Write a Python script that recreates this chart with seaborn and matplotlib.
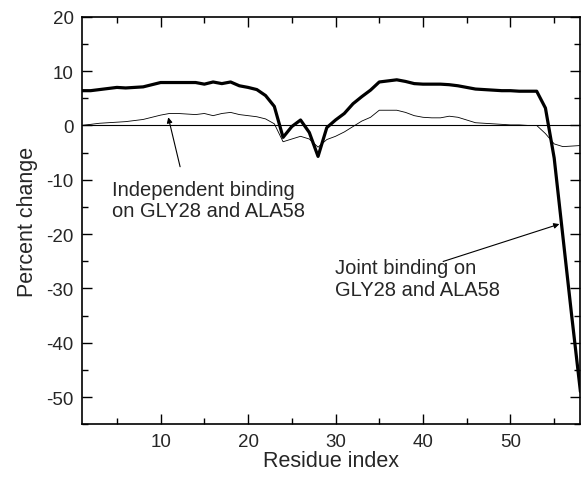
import numpy as np
import pandas as pd
import matplotlib
matplotlib.use("Agg")
import matplotlib.pyplot as plt
from matplotlib.ticker import MultipleLocator
import seaborn as sns

residues = list(range(1, 59))
joint = [6.4, 6.4, 6.6, 6.8, 7.0, 6.9, 7.0, 7.1, 7.5, 7.9,
         7.9, 7.9, 7.9, 7.9, 7.6, 8.0, 7.7, 8.0, 7.3, 7.0,
         6.6, 5.5, 3.5, -2.2, -0.2, 1.0, -1.3, -5.7, -0.4, 1.0,
         2.2, 4.0, 5.3, 6.5, 8.0, 8.2, 8.4, 8.1, 7.7, 7.6,
         7.6, 7.6, 7.5, 7.3, 7.0, 6.7, 6.6, 6.5, 6.4, 6.4,
         6.3, 6.3, 6.3, 3.2, -6.0, -20.5, -35.0, -49.0]
independent = [0.0, 0.2, 0.4, 0.5, 0.6, 0.7, 0.9, 1.1, 1.5, 1.9,
               2.2, 2.2, 2.1, 2.0, 2.2, 1.8, 2.2, 2.4, 2.0, 1.8,
               1.6, 1.2, 0.3, -3.0, -2.5, -2.0, -2.5, -4.0, -2.6, -2.0,
               -1.2, -0.2, 0.8, 1.5, 2.8, 2.8, 2.8, 2.4, 1.8, 1.5,
               1.4, 1.4, 1.7, 1.5, 1.0, 0.5, 0.4, 0.3, 0.2, 0.1,
               0.1, 0.0, 0.0, -1.5, -3.4, -3.9, -3.8, -3.7]
x_ticks = [10, 20, 30, 40, 50]
y_ticks = [-50, -40, -30, -20, -10, 0, 10, 20]

sns.set_style("ticks")
plt.rcParams['font.family'] = ['Liberation Sans', 'DejaVu Sans']
plt.rcParams['axes.unicode_minus'] = False

fig = plt.figure(figsize=(5.81, 4.81), dpi=100)
ax = fig.add_axes([0.141, 0.116, 0.858, 0.847])

df = pd.DataFrame({"Residue": residues, "Joint": joint, "Independent": independent})
ax.axhline(0, color="black", lw=0.8, zorder=1)
sns.lineplot(data=df, x="Residue", y="Independent", ax=ax, color="black", lw=0.6)
sns.lineplot(data=df, x="Residue", y="Joint", ax=ax, color="black", lw=2.3)

ax.set_xlim(1, 58)
ax.set_ylim(-55, 20)
ax.set_xticks(x_ticks)
ax.set_yticks(y_ticks)
ax.xaxis.set_minor_locator(MultipleLocator(5))
ax.yaxis.set_minor_locator(MultipleLocator(5))
ax.tick_params(which="both", direction="in", top=True, right=True, labeltop=False, labelright=False,
               labelsize=13.5, width=1, color="black")
ax.tick_params(which="major", length=7, pad=6)
ax.tick_params(which="minor", length=4)
for s in ax.spines.values():
    s.set_linewidth(1.2)
    s.set_color("black")

ax.set_xlabel("Residue index", fontsize=15.5, labelpad=0)
ax.set_ylabel("Percent change", fontsize=15.5, labelpad=6)

ax.annotate("", xy=(10.8, 2.0), xytext=(12.3, -8.1),
            arrowprops=dict(arrowstyle="-|>", color="black", lw=0.8, mutation_scale=8))
ax.text(4.4, -13.7, "Independent binding\non GLY28 and ALA58", ha="left", va="center",
        fontsize=14.5, linespacing=1.1)
ax.annotate("", xy=(55.9, -18.0), xytext=(42.0, -25.2),
            arrowprops=dict(arrowstyle="-|>", color="black", lw=0.8, mutation_scale=8))
ax.text(29.9, -28.2, "Joint binding on\nGLY28 and ALA58", ha="left", va="center",
        fontsize=14.5, linespacing=1.15)

fig.savefig("out.png", dpi=100)
